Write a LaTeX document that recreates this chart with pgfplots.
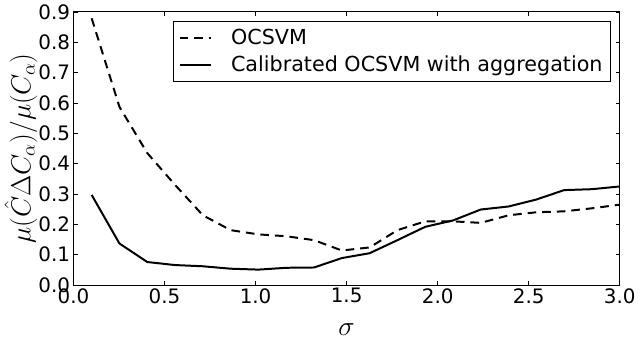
\documentclass[border=0pt]{standalone}
\usepackage{fontspec}
\setmainfont{DejaVu Sans}
\usepackage{pgfplots}
\pgfplotsset{compat=1.18}
\begin{document}
\begin{tikzpicture}
\begin{axis}[
    width=412pt,
    height=206pt,
    scale only axis,
    xmin=0, xmax=3,
    ymin=0, ymax=0.9,
    xtick={0,0.5,...,3.0},
    ytick={0,0.1,...,0.9},
    tick align=inside,
    major tick length=3.2pt,
    tick style={black, line width=0.6pt},
    axis line style={line width=0.8pt},
    /pgf/number format/fixed,
    /pgf/number format/fixed zerofill,
    /pgf/number format/precision=1,
    /pgf/number format/assume math mode=true,
    tick label style={font=\fontsize{15}{17}\selectfont},
    xticklabel style={yshift=1pt},
    yticklabel style={xshift=1pt},
    xlabel={$\sigma$},
    ylabel={$\mu(\hat{C}\Delta C_\alpha)/\mu(C_\alpha)$},
    label style={font=\fontsize{20}{22}\selectfont},
    xlabel style={yshift=-8pt},
    ylabel style={yshift=-6pt},
    legend style={
        at={(0.984,0.968)},
        anchor=north east,
        font=\fontsize{15.6}{18}\selectfont,
        draw=black,
        line width=0.8pt,
        inner xsep=4pt,
        inner ysep=4pt,
        row sep=3pt,
    },
    legend image code/.code={
        \draw[#1] (2pt,0pt) -- (26pt,0pt);
        \path (38pt,0pt);
    },
    legend cell align=left,
]
% OCSVM
\addplot[black, line width=1.5pt, dash pattern=on 6.5pt off 4.5pt] coordinates {
    (0.1000,0.879) (0.2526,0.587) (0.4053,0.435) (0.5579,0.330)
    (0.7105,0.230) (0.8632,0.181) (1.0158,0.167) (1.1684,0.161)
    (1.3211,0.148) (1.4737,0.114) (1.6263,0.124) (1.7789,0.181)
    (1.9316,0.210) (2.0842,0.210) (2.2368,0.205) (2.3895,0.230)
    (2.5421,0.240) (2.6947,0.243) (2.8474,0.253) (3.0000,0.265)
};
% Calibrated OCSVM with aggregation
\addplot[black, line width=1.5pt] coordinates {
    (0.1000,0.297) (0.2526,0.137) (0.4053,0.076) (0.5579,0.066)
    (0.7105,0.062) (0.8632,0.054) (1.0158,0.051) (1.1684,0.057)
    (1.3211,0.058) (1.4737,0.089) (1.6263,0.105) (1.7789,0.148)
    (1.9316,0.192) (2.0842,0.213) (2.2368,0.249) (2.3895,0.259)
    (2.5421,0.282) (2.6947,0.313) (2.8474,0.316) (3.0000,0.325)
};
\legend{OCSVM, Calibrated OCSVM with aggregation}
\end{axis}
\end{tikzpicture}
\end{document}
